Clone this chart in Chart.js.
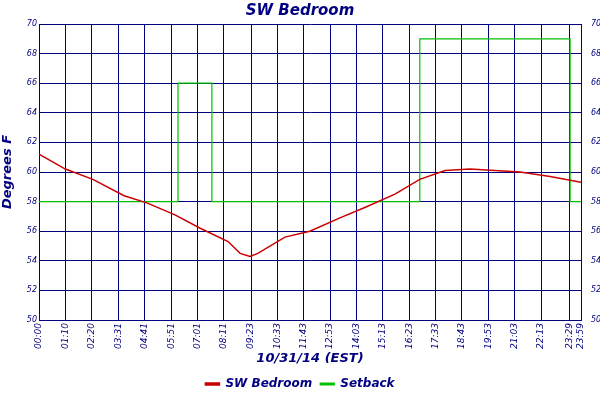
<!DOCTYPE html>
<html><head><meta charset="utf-8">
<script src="https://cdn.jsdelivr.net/npm/chart.js@4"></script>
<style>html,body{margin:0;padding:0;background:#fff}#w{width:600px;height:400px}</style>
</head><body><div id="w"><canvas id="c"></canvas></div>
<script>
const tickLabels=["00:00","01:10","02:20","03:31","04:41","05:51","07:01","08:11","09:23","10:33","11:43","12:53","14:03","15:13","16:23","17:33","18:43","19:53","21:03","22:13","23:29","23:59"];
const tempTimes=[0,70,143,226,288,361,428,502,534,560,581,653,719,799,865,945,1011,1078,1144,1277,1357,1439];
const tempValues=[61.2,60.2,59.5,58.4,57.9,57.1,56.2,55.3,54.5,54.3,54.5,55.6,56.0,56.9,57.6,58.5,59.5,60.1,60.2,60.0,59.7,59.3];
const setTimes=[0,369,459,1011,1410,1439];
const setValues=[58,66,58,69,58,58];
const toMin=s=>{const[a,b]=s.split(":").map(Number);return a*60+b;};
const tickMinutes=tickLabels.map(toMin);
const font={family:"DejaVu Sans",style:"italic"};
const navy="#000080";
const yAxis=(pos,w)=>({type:"linear",position:pos,min:50,max:70,
  ticks:{stepSize:2,color:navy,font:{...font,size:8},padding:2},
  grid:{color:navy,lineWidth:1,drawTicks:false},border:{color:navy},
  title:pos==="left"?{display:true,text:"Degrees F",color:navy,font:{...font,size:13,weight:"bold"},padding:0}:{display:false},
  afterFit:a=>{a.width=w;}});
new Chart(document.getElementById("c"),{type:"line",
data:{datasets:[
 {label:"SW Bedroom",data:tempTimes.map((t,i)=>({x:t,y:tempValues[i]})),borderColor:"#cc0000",backgroundColor:"#cc0000",borderWidth:1.5,pointRadius:0,yAxisID:"y"},
 {label:"Setback",data:setTimes.map((t,i)=>({x:t,y:setValues[i]})),borderColor:"#00c000",backgroundColor:"#00c000",borderWidth:1.2,pointRadius:0,stepped:true,yAxisID:"y"}
]},
options:{responsive:true,maintainAspectRatio:false,animation:false,
 layout:{padding:0},
 plugins:{title:{display:true,text:"SW Bedroom",color:navy,font:{...font,size:15,weight:"bold"},padding:{top:2,bottom:4}},
  legend:{position:"bottom",labels:{color:navy,font:{...font,size:12,weight:"bold"},boxWidth:14,boxHeight:2,padding:8}},tooltip:{enabled:false}},
 scales:{
  x:{type:"linear",min:0,max:1439,
   afterBuildTicks:a=>{a.ticks=tickMinutes.map(v=>({value:v}));},
   ticks:{autoSkip:false,minRotation:90,maxRotation:90,color:navy,font:{...font,size:9},
     callback:(v)=>{const i=tickMinutes.indexOf(v);return i>=0?tickLabels[i]:"";}},
   grid:{color:navy,drawTicks:false},border:{color:navy},
   title:{display:true,text:"10/31/14 (EST)",color:navy,font:{...font,size:13,weight:"bold"},padding:{top:2}},
   afterFit:a=>{a.height=50;}},
  y:yAxis("left",39),
  y2:{...yAxis("right",19),grid:{display:false}}
 }}});
</script></body></html>
